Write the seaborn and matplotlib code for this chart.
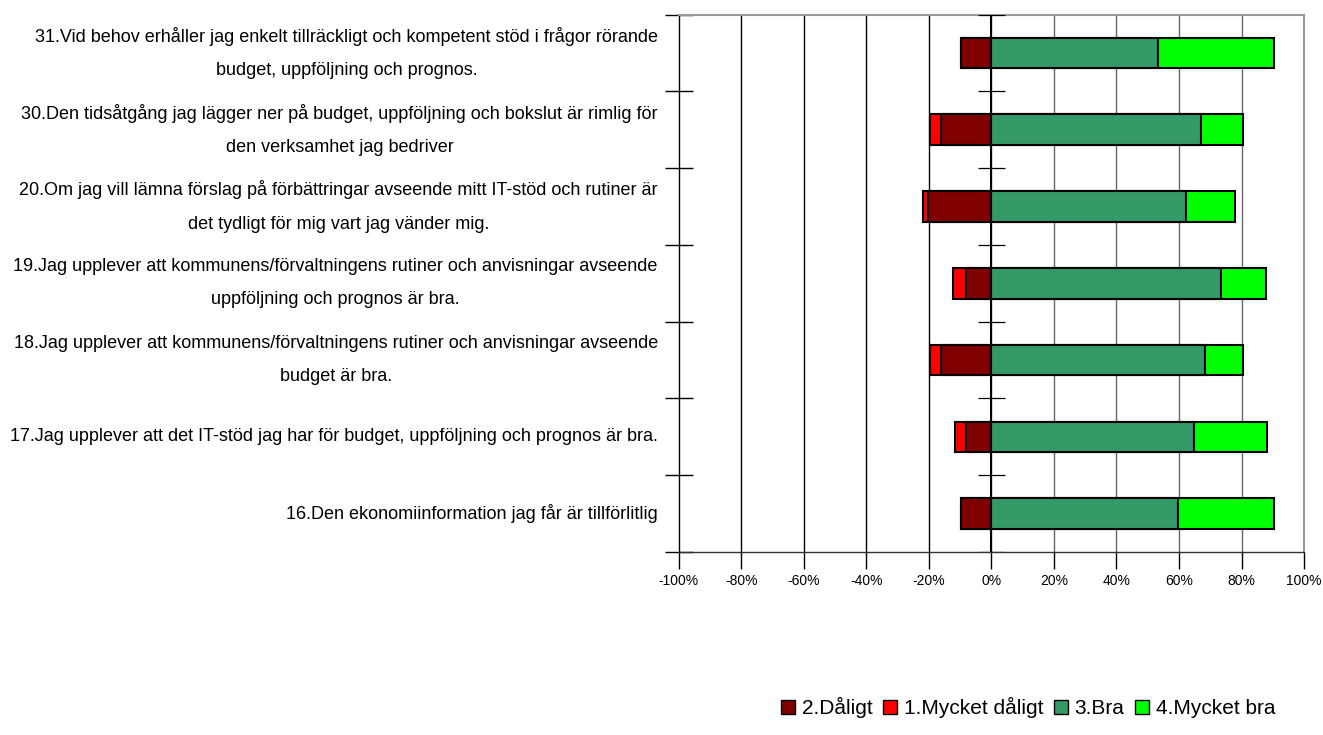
import numpy as np
import pandas as pd
import matplotlib
matplotlib.use("Agg")
import matplotlib.pyplot as plt
import seaborn as sns
from matplotlib.patches import Patch

# frågor, uppifrån och ned
questions = [
    "31.Vid behov erhåller jag enkelt tillräckligt och kompetent stöd i frågor rörande\nbudget, uppföljning och prognos.",
    "30.Den tidsåtgång jag lägger ner på budget, uppföljning och bokslut är rimlig för\nden verksamhet jag bedriver",
    "20.Om jag vill lämna förslag på förbättringar avseende mitt IT-stöd och rutiner är\ndet tydligt för mig vart jag vänder mig.",
    "19.Jag upplever att kommunens/förvaltningens rutiner och anvisningar avseende\nuppföljning och prognos är bra.",
    "18.Jag upplever att kommunens/förvaltningens rutiner och anvisningar avseende\nbudget är bra.",
    "17.Jag upplever att det IT-stöd jag har för budget, uppföljning och prognos är bra.",
    "16.Den ekonomiinformation jag får är tillförlitlig",
]

# andelar i procent (avlästa)
daligt = [9.6, 16.0, 20.2, 8.0, 16.0, 8.0, 9.6]
mycket_daligt = [0.0, 3.7, 1.6, 4.2, 3.7, 3.7, 0.0]
bra = [53.2, 67.0, 62.2, 73.4, 68.4, 64.9, 59.6]
mycket_bra = [37.2, 13.6, 15.8, 14.4, 12.2, 23.2, 30.8]

x_ticks = [-100, -80, -60, -40, -20, 0, 20, 40, 60, 80, 100]
x_tick_labels = [f"{t}%" for t in x_ticks]

legend_labels = ["2.Dåligt", "1.Mycket dåligt", "3.Bra", "4.Mycket bra"]
colors = {"2.Dåligt": "#800000", "1.Mycket dåligt": "#FF0000",
          "3.Bra": "#339966", "4.Mycket bra": "#00FF00"}

df = pd.DataFrame({
    "fraga": questions,
    "neg_total": -(np.array(daligt) + np.array(mycket_daligt)),
    "neg_daligt": -np.array(daligt),
    "pos_total": np.array(bra) + np.array(mycket_bra),
    "pos_bra": np.array(bra),
})

sns.set_theme(style="white")
plt.rcParams["font.family"] = ["Liberation Sans", "DejaVu Sans"]
plt.rcParams["text.color"] = "black"
plt.rcParams["xtick.color"] = "black"
plt.rcParams["ytick.color"] = "black"

fig = plt.figure(figsize=(13.23, 7.35), dpi=100)
ax = fig.add_axes([0.513, 0.249, 0.4727, 0.731])

# gridlinjer
for t in x_ticks[1:-1]:
    ax.axvline(t, color="black" if t < 0 else "#666666", lw=1.0, zorder=0)

bar_kw = dict(orient="h", width=0.4, edgecolor="black", linewidth=1.5,
              saturation=1, order=questions, ax=ax, zorder=2)
sns.barplot(data=df, x="neg_total", y="fraga", color=colors["1.Mycket dåligt"], **bar_kw)
sns.barplot(data=df, x="neg_daligt", y="fraga", color=colors["2.Dåligt"], **bar_kw)
sns.barplot(data=df, x="pos_total", y="fraga", color=colors["4.Mycket bra"], **bar_kw)
sns.barplot(data=df, x="pos_bra", y="fraga", color=colors["3.Bra"], **bar_kw)

for p in ax.patches:
    p.set_alpha(1)
    p.set_edgecolor("black")

n = len(questions)
ax.axvline(0, color="black", lw=1.5, zorder=3)
# små streck mellan kategorierna vid nollinjen
boundaries = np.arange(n + 1) - 0.5
ax.hlines(boundaries, -4.3, 4.3, color="black", lw=0.9, zorder=3)

ax.set_xlim(-100, 100)
ax.set_ylim(n - 0.5, -0.5)
ax.set_xticks(x_ticks)
ax.set_xticklabels(x_tick_labels, fontsize=10)
ax.set_yticks(range(n))
ax.set_yticklabels(questions, fontsize=13, multialignment="center", linespacing=2.25, va="center")
ax.set_yticks(boundaries, minor=True)
ax.tick_params(axis="y", which="major", length=0, pad=15)
ax.tick_params(axis="y", which="minor", length=20, direction="inout", width=1.0, color="black", left=True)
ax.tick_params(axis="x", which="major", length=12, direction="out", width=1.0, color="black", bottom=True, pad=4)
ax.set_xlabel("")
ax.set_ylabel("")

for side in ["top", "right"]:
    ax.spines[side].set_color("#999999")
    ax.spines[side].set_linewidth(1.5)
ax.spines["left"].set_color("black")
ax.spines["left"].set_linewidth(1.0)
ax.spines["bottom"].set_color("#333333")
ax.spines["bottom"].set_linewidth(1.0)

handles = [Patch(facecolor=colors[l], edgecolor="black", linewidth=1.0) for l in legend_labels]
fig.legend(handles, legend_labels, loc="center", bbox_to_anchor=(0.777, 0.037), ncol=4,
           frameon=False, fontsize=15, handlelength=0.7, handleheight=0.7,
           handletextpad=0.3, columnspacing=0.5)

fig.savefig("out.png", dpi=100)
